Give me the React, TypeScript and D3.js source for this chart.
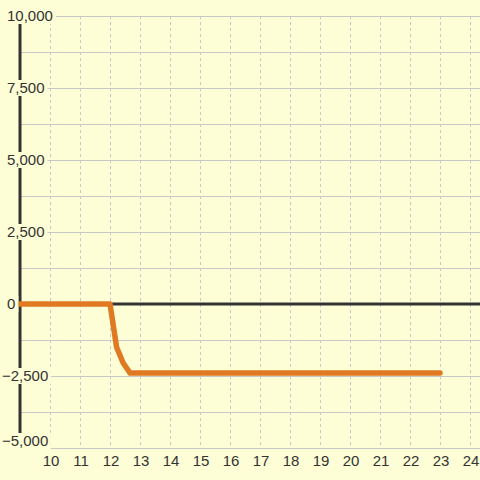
import React from "react";
import * as d3 from "d3";

const lineX = [9, 10, 11, 12, 12.22, 12.44, 12.67, 13, 14, 15, 16, 17, 18, 19, 20, 21, 22, 23];
const lineY = [0, 0, 0, 0, -1500, -2050, -2400, -2400, -2400, -2400, -2400, -2400, -2400, -2400, -2400, -2400, -2400, -2400];
const xTicks = [10, 11, 12, 13, 14, 15, 16, 17, 18, 19, 20, 21, 22, 23, 24];
const yLabels = [-5000, -2500, 0, 2500, 5000, 7500, 10000];
const yGrid = [-5000, -3750, -2500, -1250, 0, 1250, 2500, 3750, 5000, 6250, 7500, 8750, 10000];

const W = 480;
const H = 480;
const BG = "#fdfdd6";
const FS = 15;
const FONT = "'Liberation Sans', Arial, sans-serif";

function textWidth(s: string) {
  let w = 0;
  for (const c of s) {
    if (c === ",") w += 0.278;
    else if (c === "-") w += 0.333;
    else w += 0.556;
  }
  return w * FS;
}

export default function App() {
  const x = d3.scaleLinear().domain([9, 24 + 1 / 3]).range([20, 480]);
  const y = d3.scaleLinear().domain([-5000, 10000]).range([448, 16]);
  const fmt = d3.format(",");
  const pts: [number, number][] = lineX.map((v, i) => [v, lineY[i]]);
  const line = d3
    .line<[number, number]>()
    .x((d) => x(d[0]))
    .y((d) => y(d[1]));

  return (
    <svg
      width={W}
      height={H}
      style={{ position: "absolute", left: 0, top: 0 }}
      fontFamily={FONT}
    >
      <rect x={0} y={0} width={W} height={H} fill={BG} />
      {yGrid.map((v) => (
        <line
          key={"hg" + v}
          x1={x(9)}
          x2={W}
          y1={Math.round(y(v)) + 0.5}
          y2={Math.round(y(v)) + 0.5}
          stroke="#c8c8c8"
          strokeWidth={1}
        />
      ))}
      {xTicks.map((v) => (
        <line
          key={"vg" + v}
          x1={Math.round(x(v)) + 0.5}
          x2={Math.round(x(v)) + 0.5}
          y1={y(10000)}
          y2={y(-5000) - 3}
          stroke="#c8c8c8"
          strokeWidth={1}
          strokeDasharray="3,3"
        />
      ))}
      <line x1={x(9)} x2={x(9)} y1={y(10000)} y2={y(-5000)} stroke="#333" strokeWidth={3} />
      <line x1={x(9)} x2={W} y1={y(0)} y2={y(0)} stroke="#333" strokeWidth={3} />
      <path
        d={line(pts) || ""}
        fill="none"
        stroke="#e07a22"
        strokeWidth={5.5}
        strokeLinejoin="round"
        strokeLinecap="round"
      />
      {yLabels.map((v) => {
        const s = fmt(v);
        const w = textWidth(s);
        const x0 = v < 0 ? 7 - 0.333 * FS : 7;
        const yy = Math.min(y(v), 441);
        return (
          <g key={"yl" + v}>
            <rect x={x0 - 2} y={yy - 8} width={w + 5} height={16} fill={BG} />
            <text x={x0} y={yy} dy="0.35em" fontSize={FS} fill="#333">
              {s}
            </text>
          </g>
        );
      })}
      {xTicks.map((v) => (
        <text
          key={"xl" + v}
          x={x(v) + 1}
          y={461}
          dy="0.35em"
          textAnchor="middle"
          fontSize={FS}
          fill="#333"
        >
          {v}
        </text>
      ))}
    </svg>
  );
}
